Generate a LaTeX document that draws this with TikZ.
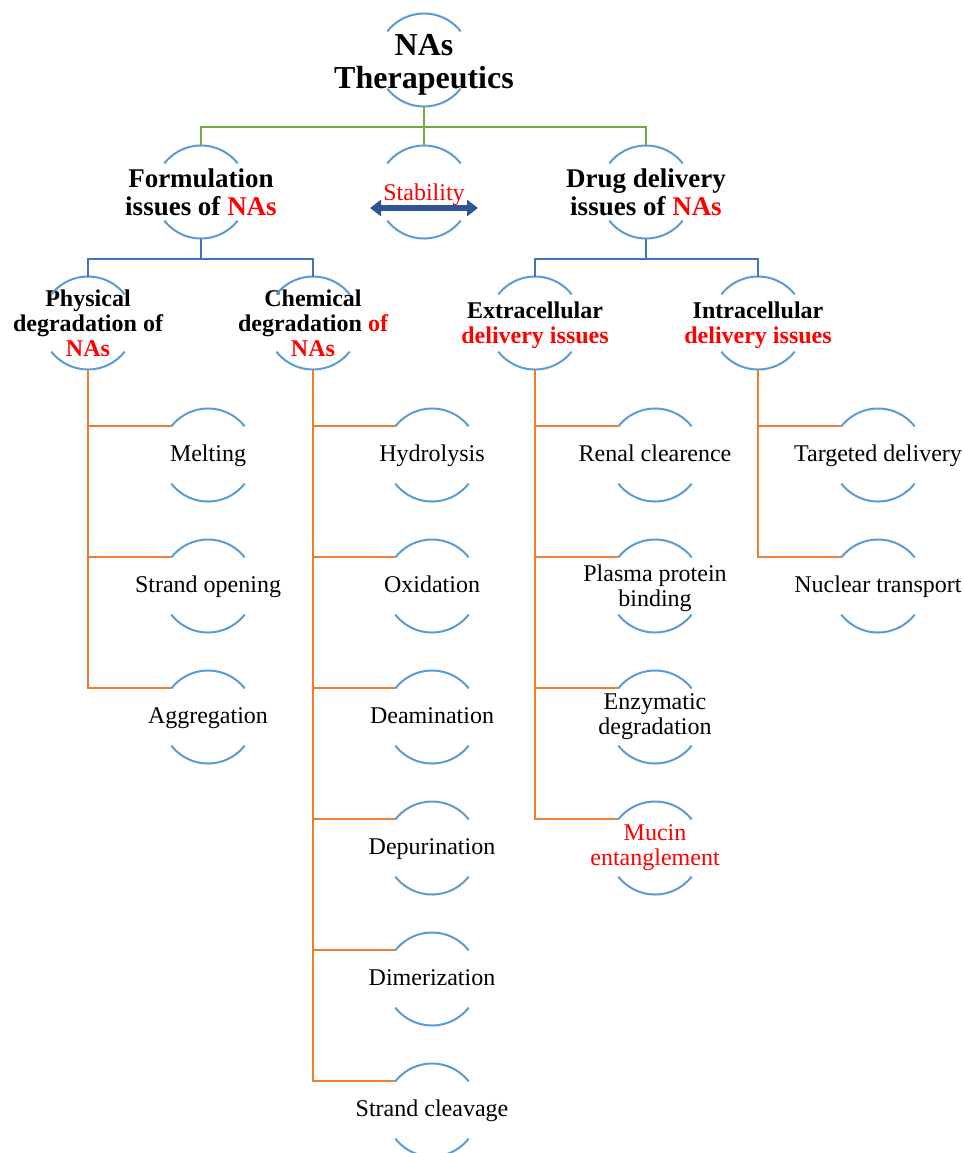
\documentclass[tikz,border=0pt]{standalone}
\usepackage{fontspec}
\setmainfont{Liberation Serif}
\usepackage{tikz}
\usetikzlibrary{calc, positioning, arrows.meta}
\usepackage{xcolor}
\definecolor{arcblue}{RGB}{91, 155, 213}
\definecolor{lineblue}{RGB}{68, 114, 196}
\definecolor{linegreen}{RGB}{112, 173, 71}
\definecolor{lineorange}{RGB}{237, 125, 49}
\definecolor{arrowblue}{RGB}{47, 85, 151}
\definecolor{txtred}{RGB}{255, 0, 0}

% upper and lower arc round a bubble node
\newcommand{\arcpair}[1]{%
  \draw[arcline] ([shift={(38:23.25pt)}]#1.center) arc[start angle=38, end angle=142, radius=23.25pt];
  \draw[arcline] ([shift={(218:23.25pt)}]#1.center) arc[start angle=218, end angle=322, radius=23.25pt];}

\begin{document}
\begin{tikzpicture}[
  x=0.5pt, y=0.5pt,
  bub/.style={circle, minimum size=46.5pt, inner sep=0pt, outer sep=0pt},
  arcline/.style={arcblue, line width=1pt},
  txt/.style={align=center, inner sep=0pt, font=\fontsize{12}{12.5}\selectfont},
  item/.style={txt, text height=8.5pt, text depth=2.5pt},
  head/.style={align=center, inner sep=0pt, font=\fontsize{12}{12.5}\selectfont\bfseries},
  grline/.style={linegreen, line width=1pt},
  blline/.style={lineblue, line width=1pt},
  orline/.style={lineorange, line width=1pt}
]
  \useasboundingbox (0,0) rectangle (964,-1153);

  % top level
  \node[bub] (root) at (424,-60) {};
  \node[head, font=\fontsize{16}{16.5}\selectfont\bfseries] (title) at (424,-65) {NAs\\Therapeutics};

  \node[bub, label={[head, font=\fontsize{13.5}{14}\selectfont\bfseries]center:Formulation\\issues of \textcolor{txtred}{NAs}}] (form) at (201,-192) {};
  \node[bub, label={[item, text=txtred, yshift=-1pt]center:Stability}] (stab) at (424,-192) {};
  \node[bub, label={[head, font=\fontsize{13.5}{14}\selectfont\bfseries]center:Drug delivery\\issues of \textcolor{txtred}{NAs}}] (drug) at (646,-192) {};

  \coordinate (stabL) at (370,-208);
  \coordinate (stabR) at (478,-208);
  \draw[arrowblue, line width=2.6pt, {Triangle[length=5.5pt, width=8pt]}-{Triangle[length=5.5pt, width=8pt]}] (stabL) -- (stabR);

  % second level
  \node[bub, label={[head]center:Physical\\degradation of\\\textcolor{txtred}{NAs}}] (phys) at (88,-323) {};
  \node[bub, label={[head]center:Chemical\\degradation \textcolor{txtred}{of}\\\textcolor{txtred}{NAs}}] (chem) at (313,-323) {};
  \node[bub, label={[head, yshift=-1pt]center:Extracellular\\\textcolor{txtred}{delivery issues}}] (extra) at (535,-323) {};
  \node[bub, label={[head, yshift=-1pt]center:Intracellular\\\textcolor{txtred}{delivery issues}}] (intra) at (758,-323) {};

  % physical degradation
  \node[bub, label={[item]center:Melting}] (melt) at (208,-455) {};
  \node[bub, label={[item]center:Strand opening}] (open) at (208,-586) {};
  \node[bub, label={[item]center:Aggregation}] (aggr) at (208,-717) {};

  % chemical degradation
  \node[bub, label={[item]center:Hydrolysis}] (hydro) at (432,-455) {};
  \node[bub, label={[item]center:Oxidation}] (oxid) at (432,-586) {};
  \node[bub, label={[item]center:Deamination}] (deam) at (432,-717) {};
  \node[bub, label={[item]center:Depurination}] (depur) at (432,-848) {};
  \node[bub, label={[item]center:Dimerization}] (dimer) at (432,-979) {};
  \node[bub, label={[item]center:Strand cleavage}] (cleav) at (432,-1110) {};

  % extracellular delivery
  \node[bub, label={[item]center:Renal clearence}] (renal) at (655,-455) {};
  \node[bub, label={[txt, yshift=-1pt]center:Plasma protein\\binding}] (plasma) at (655,-586) {};
  \node[bub, label={[txt]center:Enzymatic\\degradation}] (enzym) at (655,-717) {};
  \node[bub, label={[txt, text=txtred]center:Mucin\\entanglement}] (mucin) at (655,-848) {};

  % intracellular delivery
  \node[bub, label={[item]center:Targeted delivery}] (target) at (878,-455) {};
  \node[bub, label={[item]center:Nuclear transport}] (nucl) at (878,-586) {};

  \foreach \n in {root, form, stab, drug, phys, chem, extra, intra,
                  melt, open, aggr, hydro, oxid, deam, depur, dimer, cleav,
                  renal, plasma, enzym, mucin, target, nucl}
    {\arcpair{\n}}

  % connectors
  \draw[grline] (root.south) -- ++(0,-20) -| (form.north);
  \draw[grline] (root.south) -- ++(0,-20) -| (drug.north);
  \draw[grline] (root.south) -- (stab.north);

  \draw[blline] (form.south) -- ++(0,-20) -| (phys.north);
  \draw[blline] (form.south) -- ++(0,-20) -| (chem.north);
  \draw[blline] (drug.south) -- ++(0,-20) -| (extra.north);
  \draw[blline] (drug.south) -- ++(0,-20) -| (intra.north);

  \draw[orline] (phys.south) |- (melt.142);
  \draw[orline] (phys.south) |- (open.142);
  \draw[orline] (phys.south) |- (aggr.142);

  \draw[orline] (chem.south) |- (hydro.142);
  \draw[orline] (chem.south) |- (oxid.142);
  \draw[orline] (chem.south) |- (deam.142);
  \draw[orline] (chem.south) |- (depur.142);
  \draw[orline] (chem.south) |- (dimer.142);
  \draw[orline] (chem.south) |- (cleav.142);

  \draw[orline] (extra.south) |- (renal.142);
  \draw[orline] (extra.south) |- (plasma.142);
  \draw[orline] (extra.south) |- (enzym.142);
  \draw[orline] (extra.south) |- (mucin.142);

  \draw[orline] (intra.south) |- (target.142);
  \draw[orline] (intra.south) |- (nucl.142);
\end{tikzpicture}
\end{document}
